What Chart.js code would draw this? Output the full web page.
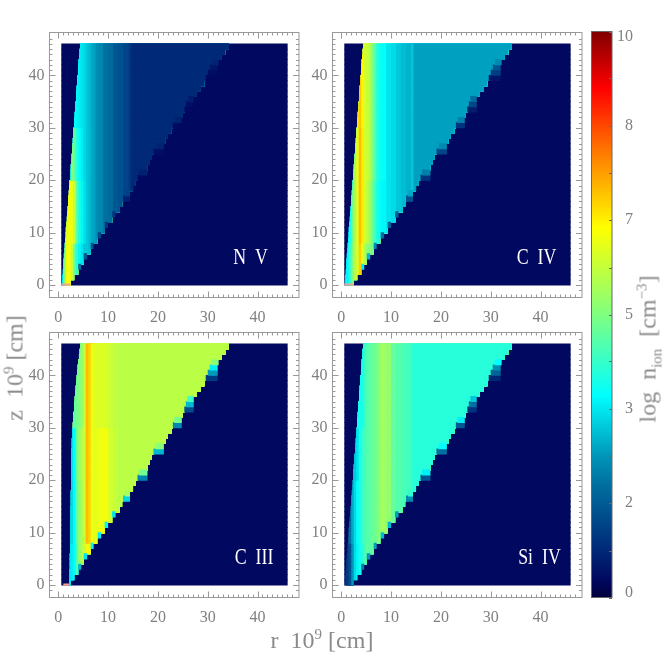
<!DOCTYPE html>
<html>
<head>
<meta charset="utf-8">
<title>log n_ion panels</title>
<script src="https://cdn.jsdelivr.net/npm/chart.js@4"></script>
<style>
  html, body { margin: 0; padding: 0; background: #fff; }
  body { position: relative; width: 664px; height: 664px; overflow: hidden; }
  canvas { position: absolute; }
  .title { position: absolute; font: 24px "Liberation Serif", serif; color: #8a8a8a; white-space: nowrap; transform: translate(-50%, -50%); }
  .title sup { font-size: 15px; line-height: 0; }
  .title sub { font-size: 15px; line-height: 0; }
  .vert { transform: translate(-50%, -50%) rotate(-90deg); }
</style>
</head>
<body>
<canvas id="nv" width="300" height="310" style="left:0;top:22px"></canvas>
<canvas id="civ" width="300" height="310" style="left:283px;top:22px"></canvas>
<canvas id="ciii" width="300" height="310" style="left:0;top:322px"></canvas>
<canvas id="siiv" width="300" height="310" style="left:283px;top:322px"></canvas>
<canvas id="bar" width="84" height="664" style="left:580px;top:0"></canvas>
<div class="title" style="left:322px;top:640px">r&nbsp;&nbsp;10<sup>9</sup>&nbsp;[cm]</div>
<div class="title vert" style="left:15px;top:368px">z&nbsp;&nbsp;10<sup>9</sup>&nbsp;[cm]</div>
<div class="title vert" style="left:648px;top:349px">log&nbsp;&nbsp;n<sub>ion</sub>&nbsp;&nbsp;[cm<sup>&minus;3</sup>]</div>
<script>
// z centre of every image row
const rowZ = [0.5,1.5,2.5,3.5,4.5,5.5,6.5,7.5,8.5,9.5,10.5,11.5,12.5,13.5,14.5,15.5,16.5,17.5,18.5,19.5,20.5,21.5,22.5,
  23.5,24.5,25.5,26.5,27.5,28.5,29.5,30.5,31.5,32.5,33.5,34.5,35.5,36.5,37.5,38.5,39.5,40.5,41.5,42.5,43.5,44.5,45.5];

// left start of each vertical stripe, r in 10^9 cm
const rStripes = [0.5,1,1.5,2,2.5,3,3.5,4,4.5,5,5.5,6,6.5,7,7.5,8,9,10,11,12,13,14,14.5];

// left edge of the flow, one r per row
const flowLeft = [0.7,0.75,0.85,0.95,1,1.1,1.2,1.25,1.35,1.45,1.5,1.6,1.7,1.75,1.85,1.95,2,2.1,2.2,2.25,2.35,2.4,2.5,
  2.6,2.65,2.75,2.8,2.9,3,3.05,3.15,3.2,3.3,3.4,3.45,3.55,3.6,3.7,3.8,3.85,3.95,4.05,4.1,4.2,4.3,4.4];
const ciiiLeft = [2.2,2.25,2.25,2.3,2.3,2.3,2.35,2.35,2.35,2.4,2.4,2.4,2.45,2.45,2.45,2.5,2.5,2.5,2.55,2.55,2.55,2.6,2.6,
  2.6,2.65,2.65,2.7,2.7,2.75,2.8,2.9,3,3.05,3.15,3.2,3.3,3.4,3.5,3.6,3.7,3.8,3.9,4,4.15,4.3,4.45];

// staircase on the right: outer edge, start of the faded step, fade of that step
const wedgeEdge = [2.5,3.2,4,4.6,5.1,5.8,6.5,7.1,7.8,8.6,9.3,10,10.8,11.5,12.3,12.8,14.4,14.4,15,15.5,17.9,17.9,17.9,
  18.4,18.8,21.2,21.2,21.5,22,22.7,24.8,24.8,25,27.2,27.2,27.2,27.8,28.6,29.3,32,32,32,32.2,32.8,33.5,34.2];
const wedgeInner = [2.5,3.2,4,4,5.1,5.1,6.5,6.5,7.8,7.9,9.3,9.3,10.8,10.8,12.3,12.8,13,13.4,15,15.5,15.9,16.2,17.9,
  18.4,18.8,19.1,19.5,21.5,22,22.7,23,23.3,25,25.3,25.6,25.9,27.8,28.6,29.3,29.6,30,30.4,30.8,32.8,33.5,34.2];
const wedgeFade = [1,1,1,0.55,1,0.55,1,0.55,1,0.55,1,0.55,1,0.55,1,1,0.55,0.95,1,1,0.4,0.85,1,
  1,1,0.5,0.9,1,1,1,0.4,0.85,1,0.25,0.5,0.75,1,1,1,0.2,0.45,0.6,0.9,1,1,1];

// log n per stripe, one list per height zone (z<8, 8-20, 20-30, z>30)
const nvLow   = [3.3,5.0,6.4,6.4,5.8,4.8,4.0,3.5,3.3,3.0,3.0,2.9,2.7,2.6,2.4,2.3,2.0,1.9,1.6,1.5,1.3,1.2,0.85];
const nvMid   = [3.3,5.6,6.2,6.4,6.3,5.8,4.6,3.9,3.5,3.3,3.0,2.9,2.7,2.6,2.4,2.3,2.0,1.9,1.6,1.5,1.3,1.2,0.85];
const nvUpper = [3.3,3.3,3.3,3.3,5.0,4.6,4.0,3.6,3.4,3.2,3.0,2.9,2.7,2.6,2.4,2.3,2.0,1.9,1.6,1.5,1.3,1.2,0.85];
const nvHigh  = [3.3,3.3,3.3,3.3,3.3,3.6,3.5,3.4,3.3,3.2,3.0,2.9,2.7,2.6,2.4,2.3,2.0,1.9,1.6,1.5,1.3,1.2,0.85];

const civLow   = [3.4,3.5,4.2,5.0,5.6,6.0,7.0,6.2,5.6,5.2,5.0,4.8,4.3,3.9,3.6,3.5,3.3,3.2,3.0,2.9,2.8,3.0,2.6];
const civMid   = [3.4,3.4,3.8,4.8,5.5,6.2,7.2,6.7,6.1,5.7,5.3,4.8,4.3,3.9,3.6,3.5,3.3,3.2,3.0,2.9,2.8,3.0,2.6];
const civUpper = [3.4,3.4,3.8,4.8,5.5,6.2,7.2,6.7,6.0,5.9,5.5,5.0,4.5,4.0,3.7,3.6,3.3,3.2,3.0,2.9,2.8,3.0,2.6];
const civHigh  = [5.0,5.0,5.0,5.0,5.0,6.8,7.1,6.6,6.0,5.9,5.5,5.0,4.5,4.0,3.7,3.6,3.3,3.2,3.0,2.9,2.8,3.0,2.6];

const ciiiLow   = [3.3,3.3,3.3,3.3,3.4,3.6,4.5,5.2,5.7,6.0,6.3,6.6,6.3,6.2,6.2,6.3,6.3,6.0,5.8,5.7,5.7,5.7,5.7];
const ciiiMid   = [3.2,3.2,3.2,3.2,3.2,3.6,4.6,5.2,5.6,5.9,7.2,7.0,6.3,6.2,6.2,6.35,6.4,6.0,5.8,5.7,5.7,5.7,5.7];
const ciiiUpper = [3.3,3.3,3.3,3.3,3.3,3.6,4.8,5.3,5.7,5.9,7.2,7.0,6.3,6.2,6.2,6.35,6.4,6.0,5.8,5.7,5.7,5.7,5.7];
const ciiiHigh  = [5.0,5.0,5.0,5.0,5.0,4.6,4.8,5.0,5.3,5.9,7.2,7.0,6.3,6.15,6.1,6.1,6.1,5.9,5.75,5.7,5.7,5.7,5.7];

const siivLow   = [1.0,1.2,1.5,2.5,3.2,3.5,3.8,4.0,4.4,4.6,4.6,4.7,4.8,4.9,5.3,5.4,5.2,4.7,4.5,4.4,4.3,4.1,4.0];
const siivMid   = [1.5,1.5,2.0,2.7,3.2,3.6,3.9,4.2,4.4,4.5,4.6,4.7,4.8,4.9,5.3,5.4,5.2,4.7,4.5,4.4,4.3,4.1,4.0];
const siivUpper = [3.0,3.0,3.0,3.0,3.0,3.3,3.8,4.2,4.3,4.5,4.6,4.7,4.8,4.9,5.3,5.4,5.2,4.7,4.5,4.4,4.3,4.1,4.0];
const siivHigh  = [3.8,3.8,3.8,3.8,3.8,3.8,3.8,3.8,4.2,4.5,4.6,4.7,4.8,4.9,5.3,5.4,5.2,4.7,4.5,4.4,4.3,4.1,4.0];

// first row of each height zone
const zoneStart = [0, 8, 20, 30];

// thin salmon sliver along z=0, from r to r
const nvBase = [0.6, 2.4];
const civBase = [0.6, 2.4];
const ciiiBase = [1.0, 2.2];

const ionNames = ['N  V', 'C  IV', 'C  III', 'Si  IV'];

// colour bar
const barTicks = [0,0.83,1.67,2.5,3.33,4.17,5,5.83,6.67,7.5,8.33,9.17,10];
const barLabels = ['0','','2','','3','','5','','7','','8','','10'];

// value fraction, r, g, b
const colorStops = [
  [0, 0, 0, 60], [0.03, 0, 8, 95], [0.1, 0, 50, 125], [0.2, 0, 112, 160], [0.25, 0, 150, 185],
  [0.357, 0, 255, 255], [0.5, 128, 255, 128], [0.653, 255, 255, 0], [0.78, 255, 128, 0],
  [0.9, 255, 0, 0], [1, 128, 0, 0]
];

const FRAME = '#999999';
const LABEL = '#808080';
const FONT = '"Liberation Serif", serif';
const BACKGROUND = 0.3;

function colorFor(v) {
  const f = Math.max(0, Math.min(1, v / 10));
  for (let i = 1; i < colorStops.length; i++) {
    const a = colorStops[i - 1], b = colorStops[i];
    if (f <= b[0]) {
      const t = (f - a[0]) / (b[0] - a[0]);
      return `rgb(${a[1] + (b[1] - a[1]) * t}, ${a[2] + (b[2] - a[2]) * t}, ${a[3] + (b[3] - a[3]) * t})`;
    }
  }
  return 'rgb(128, 0, 0)';
}

function zoneOf(row) {
  let zone = 0;
  zoneStart.forEach((s, i) => { if (row >= s) zone = i; });
  return zone;
}

function stripeAt(r) {
  let idx = 0;
  rStripes.forEach((s, i) => { if (r >= s) idx = i; });
  return idx;
}

// one dataset per stripe; painted left to right (lower order = on top), each
// bar runs on to the wedge edge so no seams show between neighbours
function buildDatasets(zones, left, base) {
  const common = {
    grouped: false, barPercentage: 1.15, categoryPercentage: 1, borderWidth: 0,
    backgroundColor: c => colorFor(c.raw ? c.raw.v : 0)
  };
  const sets = [{ ...common, order: 0, data: rowZ.map(z => ({ x: [0.6, 46.05], y: z, v: BACKGROUND })) }];
  rStripes.forEach((start, i) => {
    const data = [];
    rowZ.forEach((z, row) => {
      const from = Math.max(left[row], start);
      if (from < wedgeInner[row]) data.push({ x: [from, wedgeInner[row]], y: z, v: zones[zoneOf(row)][i] });
    });
    sets.push({ ...common, order: -1 - i, data });
  });
  const tail = [];
  rowZ.forEach((z, row) => {
    if (wedgeInner[row] < wedgeEdge[row]) {
      const v = zones[zoneOf(row)][stripeAt(wedgeInner[row])];
      tail.push({ x: [wedgeInner[row], wedgeEdge[row]], y: z, v: Math.max(BACKGROUND, v * wedgeFade[row]) });
    }
  });
  sets.push({ ...common, order: -100, data: tail });
  if (base) {
    sets.push({
      type: 'line', order: -101, data: [{ x: base[0], y: 0.15 }, { x: base[1], y: 0.15 }],
      borderColor: '#f8a090', borderWidth: 2, pointRadius: 0
    });
  }
  return sets;
}

// IDL style box: frame and inward ticks on all four sides, plus the ion name
const panelBox = {
  id: 'panelBox',
  afterDraw(chart, args, opts) {
    const { ctx, chartArea: a, scales: { x, y } } = chart;
    ctx.save();
    ctx.strokeStyle = FRAME;
    ctx.lineWidth = 1;
    ctx.strokeRect(a.left, a.top, a.right - a.left, a.bottom - a.top);
    ctx.beginPath();
    x.ticks.forEach(t => {
      const px = Math.round(x.getPixelForValue(t.value)) + 0.5;
      const len = t.value % 10 === 0 ? 6 : 3;
      ctx.moveTo(px, a.bottom); ctx.lineTo(px, a.bottom - len);
      ctx.moveTo(px, a.top); ctx.lineTo(px, a.top + len);
    });
    y.ticks.forEach(t => {
      const py = Math.round(y.getPixelForValue(t.value)) + 0.5;
      const len = t.value % 10 === 0 ? 6 : 3;
      ctx.moveTo(a.left, py); ctx.lineTo(a.left + len, py);
      ctx.moveTo(a.right, py); ctx.lineTo(a.right - len, py);
    });
    ctx.stroke();
    // hershey capitals are tall and narrow
    ctx.fillStyle = '#ffffff';
    ctx.font = '21px ' + FONT;
    ctx.textAlign = 'center';
    ctx.textBaseline = 'middle';
    ctx.translate(x.getPixelForValue(opts.nameAt), y.getPixelForValue(5.3));
    ctx.scale(0.85, 1.12);
    ctx.fillText(opts.name, 0, 0);
    ctx.restore();
  }
};

function axisOptions(min, max, padding, fit) {
  return {
    type: 'linear', min, max, offset: false,
    grid: { display: false, drawTicks: false, offset: false },
    border: { display: false },
    ticks: {
      stepSize: 1, autoSkip: false, maxRotation: 0, color: LABEL,
      font: { family: FONT, size: 16 }, padding,
      callback: v => (v % 10 === 0 && v >= 0 && v <= 40 ? String(v) : '')
    },
    afterBuildTicks: s => { s.ticks = s.ticks.filter(t => Number.isInteger(t.value)); },
    afterFit: s => {
      fit(s);
      // keep the label overhang from pushing the frame inwards
      s.paddingTop = s.paddingBottom = s.paddingLeft = s.paddingRight = 0;
    }
  };
}

function drawPanel(id, zones, left, base, name, nameAt) {
  new Chart(document.getElementById(id), {
    type: 'bar',
    data: { datasets: buildDatasets(zones, left, base) },
    plugins: [panelBox],
    options: {
      indexAxis: 'y',
      responsive: false,
      animation: false,
      events: [],
      layout: { padding: { top: 10.5, right: 1, left: 0, bottom: 0 } },
      plugins: { legend: { display: false }, tooltip: { enabled: false }, panelBox: { name, nameAt } },
      scales: {
        x: axisOptions(-1.77, 48.33, 11, s => { s.height = 34.5; }),
        y: axisOptions(-2.34, 48.16, 5, s => { s.width = 49.5; })
      }
    }
  });
}

drawPanel('nv', [nvLow, nvMid, nvUpper, nvHigh], flowLeft, nvBase, ionNames[0], 38.6);
drawPanel('civ', [civLow, civMid, civUpper, civHigh], flowLeft, civBase, ionNames[1], 39.2);
drawPanel('ciii', [ciiiLow, ciiiMid, ciiiUpper, ciiiHigh], ciiiLeft, ciiiBase, ionNames[2], 39.3);
drawPanel('siiv', [siivLow, siivMid, siivUpper, siivHigh], flowLeft, null, ionNames[3], 39.8);

// colour bar: one floating bar with the colour table as gradient
const barBox = {
  id: 'barBox',
  afterDraw(chart) {
    const { ctx, chartArea: a, scales: { y } } = chart;
    ctx.save();
    ctx.strokeStyle = '#666666';
    ctx.lineWidth = 1;
    ctx.strokeRect(a.left, a.top, a.right - a.left, a.bottom - a.top);
    ctx.beginPath();
    barTicks.forEach(v => {
      const py = Math.round(y.getPixelForValue(v)) + 0.5;
      ctx.moveTo(a.right, py); ctx.lineTo(a.right - 3, py);
    });
    ctx.stroke();
    ctx.fillStyle = LABEL;
    ctx.font = '16px ' + FONT;
    ctx.textAlign = 'right';
    ctx.textBaseline = 'middle';
    barTicks.forEach((v, i) => {
      if (!barLabels[i]) return;
      let py = y.getPixelForValue(v);
      if (v === 0) py -= 5;
      if (v === 10) py += 5;
      ctx.fillText(barLabels[i], a.right + 21, py);
    });
    ctx.restore();
  }
};

new Chart(document.getElementById('bar'), {
  type: 'bar',
  data: {
    labels: ['log n'],
    datasets: [{
      data: [[0, 10]],
      barPercentage: 1, categoryPercentage: 1, borderWidth: 0,
      backgroundColor: c => {
        const area = c.chart.chartArea;
        if (!area) return '#000';
        const g = c.chart.ctx.createLinearGradient(0, area.bottom, 0, area.top);
        colorStops.forEach(s => g.addColorStop(s[0], `rgb(${s[1]}, ${s[2]}, ${s[3]})`));
        return g;
      }
    }]
  },
  plugins: [barBox],
  options: {
    responsive: false,
    animation: false,
    events: [],
    layout: { padding: { top: 31.5, bottom: 66.5, left: 11.5, right: 52 } },
    plugins: { legend: { display: false }, tooltip: { enabled: false } },
    scales: {
      x: { display: false },
      y: { display: false, min: 0, max: 10 }
    }
  }
});
</script>
</body>
</html>
